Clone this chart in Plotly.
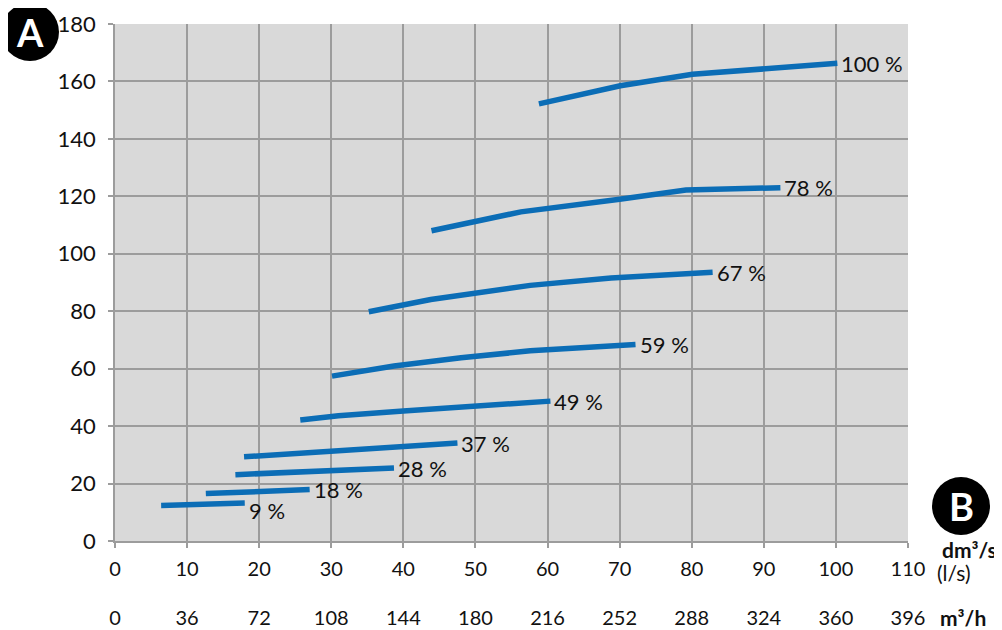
import plotly.graph_objects as go

# fan curves: flow (dm3/s) vs pressure, one line per speed setting
labels = ['9 %', '18 %', '28 %', '37 %', '49 %', '59 %', '67 %', '78 %', '100 %']
flows = [
    [6.4, 18],
    [12.6, 27],
    [16.7, 38.7],
    [17.9, 47.5],
    [25.7, 31, 40, 50, 60.4],
    [30.1, 38.7, 48, 57.6, 72.2],
    [35.2, 43.8, 57.6, 68.8, 82.9],
    [43.9, 56.3, 70, 79.2, 92.3],
    [58.8, 70.1, 80.1, 100.2],
]
pressures = [
    [12.4, 13.2],
    [16.5, 17.9],
    [23.1, 25.4],
    [29.3, 34.1],
    [42.1, 43.6, 45.3, 47.2, 48.7],
    [57.4, 60.9, 63.8, 66.2, 68.4],
    [79.8, 84.1, 89.0, 91.6, 93.6],
    [108.0, 114.6, 119.0, 122.2, 123.0],
    [152.2, 158.5, 162.5, 166.3],
]
label_dy = [-7, 0, 0, 0, 0, 0, 0, 0, 0]

x_ticks = list(range(0, 111, 10))
mh_ticks = list(range(0, 397, 36))
y_ticks = list(range(0, 181, 20))

blue = '#0b6db6'
grid = '#9c9c9c'
font = 'Lato'

fig = go.Figure()
for xs, ys in zip(flows, pressures):
    fig.add_trace(go.Scatter(x=xs, y=ys, mode='lines', line=dict(color=blue, width=5.5),
                             showlegend=False, hoverinfo='skip'))

# invisible trace so the m3/h axis is drawn
fig.add_trace(go.Scatter(x=[mh_ticks[0], mh_ticks[-1]], y=[0, 0], xaxis='x2', mode='markers',
                         marker=dict(opacity=0), showlegend=False, hoverinfo='skip'))

for xs, ys, lab, dy in zip(flows, pressures, labels, label_dy):
    fig.add_annotation(x=xs[-1], y=ys[-1], text=lab, showarrow=False, xanchor='left',
                       xshift=2, yshift=dy, font=dict(family=font, size=22, color='#111'))

dom_y0 = (604 - 541) / 580

# page body has an 8px margin, so margins are shifted by 8
fig.update_layout(
    width=1002, height=630,
    margin=dict(l=107, r=102, t=16, b=34, autoexpand=False),
    plot_bgcolor='#d9d9d9', paper_bgcolor='white',
    font=dict(family=font, size=20, color='#111'),
    xaxis=dict(range=[0, 110], tickvals=x_ticks, showgrid=True, gridcolor=grid, gridwidth=1.5,
               showline=True, linecolor=grid, linewidth=1.5, ticks='outside', ticklen=5,
               tickcolor=grid, tickwidth=1.5, zeroline=False, ticklabelstandoff=4),
    xaxis2=dict(range=[0, 396], tickvals=mh_ticks, overlaying='x', anchor='free', position=0,
                side='bottom', showgrid=False, showline=False, ticks='', zeroline=False),
    yaxis=dict(range=[0, 180], tickvals=y_ticks, domain=[dom_y0, 1], showgrid=True,
               gridcolor=grid, gridwidth=1.5, showline=True, linecolor=grid, linewidth=1.5,
               ticks='outside', ticklen=5, tickcolor=grid, tickwidth=1.5, zeroline=False,
               tickfont=dict(size=22), ticklabelstandoff=8),
)

# A / B badges
def px_x(p):
    return (p - 115) / 793

def px_y(p):
    return (604 - p) / 580

for cx, cy, letter in [(30, 32, 'A'), (961, 506, 'B')]:
    fig.add_shape(type='circle', xref='paper', yref='paper', xsizemode='pixel', ysizemode='pixel',
                  xanchor=px_x(cx), yanchor=px_y(cy), x0=-29, x1=29, y0=-29, y1=29,
                  fillcolor='black', line=dict(width=0), layer='below')
    fig.add_annotation(x=px_x(cx), y=px_y(cy), xref='paper', yref='paper', text='<b>%s</b>' % letter,
                       xanchor='center', yanchor='middle', showarrow=False,
                       font=dict(family=font, size=38, color='white'))

fig.add_annotation(x=px_x(999), y=px_y(549), xref='paper', yref='paper', text='<b>dm³/s</b>',
                   xanchor='right', yanchor='middle', showarrow=False, font=dict(family=font, size=21))
fig.add_annotation(x=px_x(935), y=px_y(572), xref='paper', yref='paper', text='(l/s)',
                   xanchor='left', yanchor='middle', showarrow=False, font=dict(family=font, size=21))
fig.add_annotation(x=px_x(938), y=px_y(617), xref='paper', yref='paper', text='<b>m³/h</b>',
                   xanchor='left', yanchor='middle', showarrow=False, font=dict(family=font, size=21))

fig.write_html("out.html")
